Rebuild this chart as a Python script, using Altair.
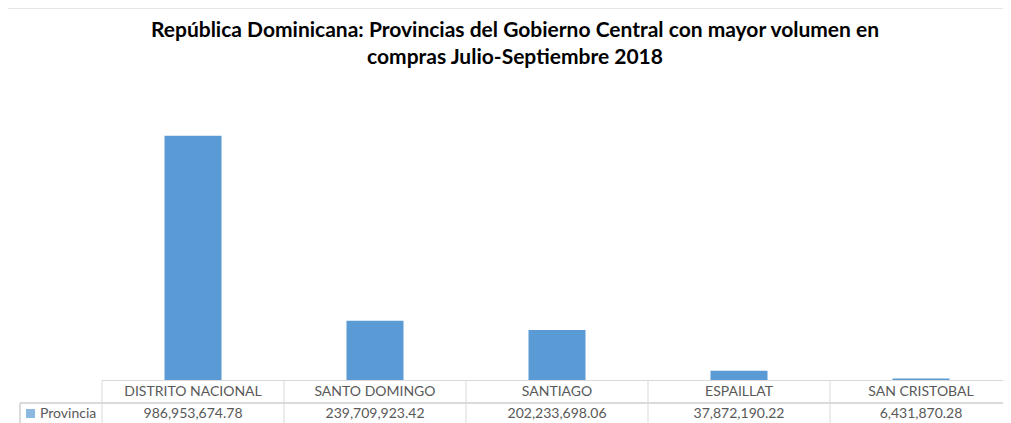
import altair as alt
import pandas as pd

provincias = ["DISTRITO NACIONAL", "SANTO DOMINGO", "SANTIAGO", "ESPAILLAT", "SAN CRISTOBAL"]
montos = [986953674.78, 239709923.42, 202233698.06, 37872190.22, 6431870.28]
serie = "Provincia"
titulo_1 = "República Dominicana: Provincias del Gobierno Central con mayor volumen en"
titulo_2 = "compras Julio-Septiembre 2018"

df = pd.DataFrame({"prov": provincias, "monto": montos})

W, H = 901, 297
FULL = 910
FONT = "Lato"
GRID = "#d9d9d9"
TXT = "#595959"
BLUE = "#5B9BD5"

xs = alt.Scale(domain=provincias, paddingInner=0, paddingOuter=0, range=[0, FULL])
X = alt.X("prov:N", sort=provincias, scale=xs, axis=None)

base = alt.Chart(df)

bars = base.mark_bar(size=57, color=BLUE).encode(
    x=X,
    y=alt.Y("monto:Q", scale=alt.Scale(domain=[0, 1.2e9]), axis=None),
)

cat_text = base.mark_text(font=FONT, fontSize=14, color=TXT, baseline="middle").encode(
    x=X, y=alt.value(H + 12), text="prov:N"
)
val_text = base.mark_text(font=FONT, fontSize=14, color=TXT, baseline="middle").encode(
    x=X, y=alt.value(H + 34), text=alt.Text("monto:Q", format=",.2f")
)

vlines = base.mark_rule(color=GRID, strokeWidth=1).encode(
    x=alt.X("prov:N", sort=provincias, scale=xs, axis=None, bandPosition=0),
    y=alt.value(H), y2=alt.value(H + 45),
)
htop = alt.Chart(df).mark_rule(color=GRID).encode(
    x=alt.value(0), x2=alt.value(FULL), y=alt.value(H + 0.5)
)
hmid = alt.Chart(df).mark_rule(color=GRID).encode(
    x=alt.value(-82), x2=alt.value(FULL), y=alt.value(H + 23)
)
vleg = alt.Chart(df).mark_rule(color=GRID).encode(
    x=alt.value(-82), y=alt.value(H + 23), y2=alt.value(H + 45)
)
frame_top = alt.Chart(df).mark_rule(color="#e6e6e6").encode(
    x=alt.value(-94), x2=alt.value(FULL), y=alt.value(-74.5)
)

legdf = pd.DataFrame({"s": [serie]})
leg_sq = alt.Chart(legdf).mark_square(size=81, color=BLUE).encode(
    x=alt.value(-71.5), y=alt.value(H + 33.5)
)
leg_tx = alt.Chart(legdf).mark_text(font=FONT, fontSize=14, color=TXT, align="left", baseline="middle").encode(
    x=alt.value(-62), y=alt.value(H + 34), text="s:N"
)

tdf = pd.DataFrame({"t1": [titulo_1], "t2": [titulo_2]})
title1 = alt.Chart(tdf).mark_text(font=FONT, fontSize=21, fontWeight="bold", color="#000000", baseline="middle").encode(
    x=alt.value(413), y=alt.value(-52), text="t1:N"
)
title2 = alt.Chart(tdf).mark_text(font=FONT, fontSize=21, fontWeight="bold", color="#000000", baseline="middle").encode(
    x=alt.value(413), y=alt.value(-25), text="t2:N"
)

chart = alt.layer(
    frame_top, bars, htop, hmid, vleg, vlines, cat_text, val_text, leg_sq, leg_tx, title1, title2
).properties(
    width=W, height=H,
    autosize=alt.AutoSizeParams(type="none"),
    padding={"left": 94, "top": 75, "right": 0, "bottom": 43},
    background="white",
).configure_view(stroke=None)

chart.save("out.html", embed_options={"renderer": "svg", "actions": False})
